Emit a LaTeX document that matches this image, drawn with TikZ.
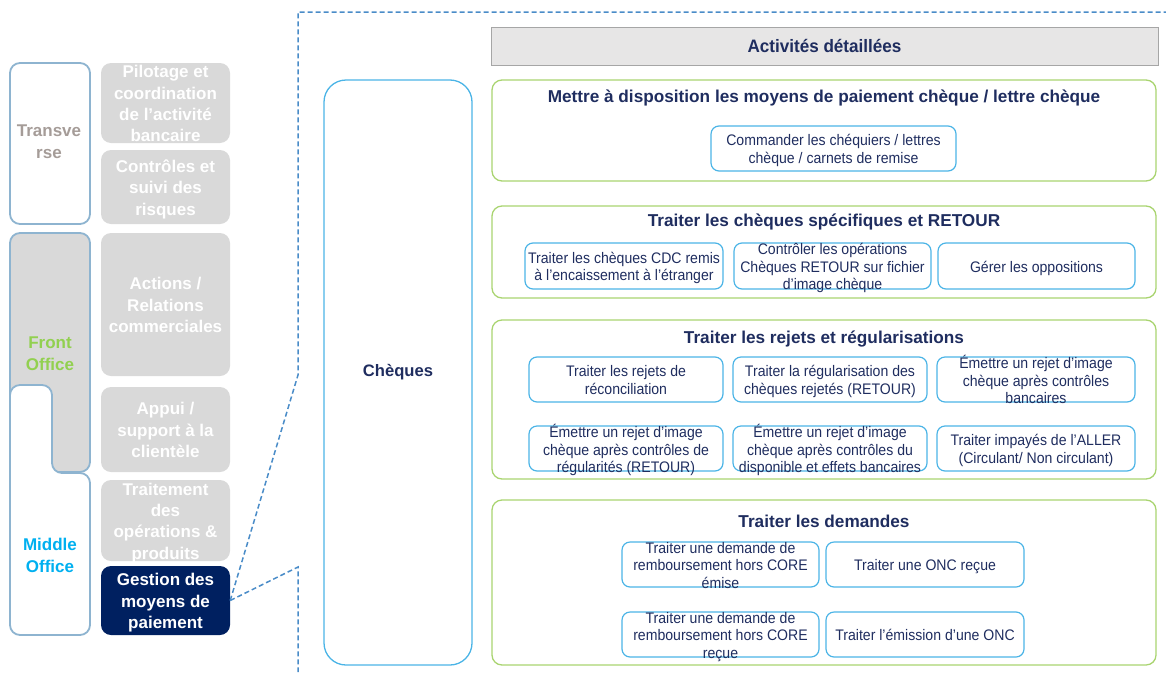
\documentclass[tikz,border=0pt]{standalone}
\usepackage{fontspec}
\setmainfont{Liberation Sans}
\newfontfamily\narrowfont{Liberation Sans}[FakeStretch=0.92]
\newfontfamily\hdrfont{Liberation Sans}[FakeStretch=0.95]
\definecolor{lgray}{HTML}{D9D9D9}
\definecolor{hgray}{HTML}{E7E6E6}
\definecolor{hborder}{HTML}{A6A6A6}
\definecolor{steel}{HTML}{8EB4D0}
\definecolor{navy}{HTML}{002060}
\definecolor{ntext}{HTML}{1F2D5F}
\definecolor{grn}{HTML}{A9D470}
\definecolor{fgreen}{HTML}{92D050}
\definecolor{mblue}{HTML}{00B0F0}
\definecolor{bbox}{HTML}{4BB4E6}
\definecolor{dashc}{HTML}{4A8CC8}
\definecolor{tgray}{HTML}{A59C98}
\newcommand\bt[1]{\smash{\raisebox{-0.4em}{\begin{tabular}{@{}c@{}}#1\end{tabular}}}}
\begin{document}
\begin{tikzpicture}[x=1pt,y=-1pt,
  graybox/.style={fill=lgray, rounded corners=10pt, inner sep=0pt, text=white,
    font=\bfseries\fontsize{17}{21.3}\selectfont},
  navybox/.style={graybox, fill=navy},
  sideframe/.style={draw=steel, line width=1.8pt, rounded corners=10pt, inner sep=0pt},
  sidetext/.style={font=\bfseries\fontsize{17}{22}\selectfont, inner sep=0pt},
  header/.style={fill=hgray, draw=hborder, line width=0.8pt, inner sep=0pt,
    text=ntext, font=\hdrfont\bfseries\fontsize{18}{20}\selectfont},
  bigbox/.style={draw=bbox, line width=1.3pt, rounded corners=22pt, inner sep=0pt,
    text=ntext, font=\bfseries\fontsize{16.6}{19}\selectfont},
  group/.style={draw=grn, line width=1.3pt, rounded corners=10pt, inner sep=0pt},
  gtitle/.style={text=ntext, inner sep=0pt, font=\bfseries\fontsize{17.2}{20}\selectfont},
  act/.style={draw=bbox, line width=1.2pt, rounded corners=8pt, inner sep=0pt,
    text=ntext, font=\narrowfont\fontsize{15.3}{17.5}\selectfont},
  frame/.style={draw=dashc, line width=1.5pt, dash pattern=on 5pt off 3pt}]
\useasboundingbox (0,0) rectangle (1166,672);
% left column
\node[sideframe, minimum width=80pt, minimum height=161pt] (trans) at (50,143.5) {};
\node[sidetext, text=tgray] (transT) at (49,140.5) {\bt{Transve\\rse}};
\node[sideframe, fill=lgray, minimum width=80pt, minimum height=239pt] (front) at (50,352.5) {};
\path[draw=steel, fill=white, line width=1.8pt, rounded corners=10pt]
  (10,385) -- (52,385) -- (52,473) -- (90,473) -- (90,635) -- (10,635) -- cycle;
\node[sidetext, text=fgreen] (frontT) at (50,353) {\bt{Front\\Office}};
\node[sidetext, text=mblue] (midT) at (50,555) {\bt{Middle\\Office}};
\node[graybox, minimum width=129pt, minimum height=80pt] (pil) at (165.5,103) {\bt{Pilotage et\\coordination\\de l’activité\\bancaire}};
\node[graybox, minimum width=129pt, minimum height=74pt] (ctl) at (165.5,187) {\bt{Contrôles et\\suivi des\\risques}};
\node[graybox, minimum width=129pt, minimum height=143pt] (acts) at (165.5,304.5) {\bt{Actions /\\Relations\\commerciales}};
\node[graybox, minimum width=129pt, minimum height=85pt] (app) at (165.5,429.5) {\bt{Appui /\\support à la\\clientèle}};
\node[graybox, minimum width=129pt, minimum height=81pt] (trt) at (165.5,520.5) {\bt{Traitement\\des\\opérations \&\\produits}};
\node[navybox, minimum width=129pt, minimum height=69pt] (gst) at (165.5,600.5) {\bt{Gestion des\\moyens de\\paiement}};
% dashed zoom frame
\coordinate (fa) at (298,375);
\coordinate (fb) at (298,12);
\coordinate (fc) at (1166,12);
\coordinate (fd) at (298,567);
\coordinate (fe) at (298,672);
\draw[frame] (gst.east) -- (fa) -- (fb) -- (fc);
\draw[frame] (gst.east) -- (fd) -- (fe);
% right part
\node[header, minimum width=667pt, minimum height=38pt] (hdr) at (824.5,46) {Activités détaillées};
\node[bigbox, minimum width=148pt, minimum height=585pt] (chq) at (398,372.5) {Chèques};
% group 1
\node[group, minimum width=664pt, minimum height=101pt] (g1) at (824,130.5) {};
\node[gtitle] (g1t) at (824,98) {Mettre à disposition les moyens de paiement chèque / lettre chèque};
\node[act, minimum width=245pt, minimum height=45pt] (a11) at (833.5,148.5) {\bt{Commander les chéquiers / lettres\\chèque / carnets de remise}};
% group 2
\node[group, minimum width=664pt, minimum height=92pt] (g2) at (824,252) {};
\node[gtitle] (g2t) at (824,222) {Traiter les chèques spécifiques et RETOUR};
\node[act, minimum width=198pt, minimum height=46pt] (a21) at (624,266) {\bt{Traiter les chèques CDC remis\\à l’encaissement à l’étranger}};
\node[act, minimum width=197pt, minimum height=46pt] (a22) at (832.5,266) {\bt{Contrôler les opérations\\Chèques RETOUR sur fichier\\d’image chèque}};
\node[act, minimum width=197pt, minimum height=46pt] (a23) at (1036.5,266) {\bt{Gérer les oppositions}};
% group 3
\node[group, minimum width=664pt, minimum height=159pt] (g3) at (824,399.5) {};
\node[gtitle] (g3t) at (824,339) {Traiter les rejets et régularisations};
\node[act, minimum width=194pt, minimum height=45pt] (a31) at (626,379.5) {\bt{Traiter les rejets de\\réconciliation}};
\node[act, minimum width=194pt, minimum height=45pt] (a32) at (830,379.5) {\bt{Traiter la régularisation des\\chèques rejetés (RETOUR)}};
\node[act, minimum width=198pt, minimum height=45pt] (a33) at (1036,379.5) {\bt{Émettre un rejet d’image\\chèque après contrôles\\bancaires}};
\node[act, minimum width=194pt, minimum height=45pt] (a34) at (626,448.5) {\bt{Émettre un rejet d’image\\chèque après contrôles de\\régularités (RETOUR)}};
\node[act, minimum width=194pt, minimum height=45pt] (a35) at (830,448.5) {\bt{Émettre un rejet d’image\\chèque après contrôles du\\disponible et effets bancaires}};
\node[act, minimum width=198pt, minimum height=45pt] (a36) at (1036,448.5) {\bt{Traiter impayés de l’ALLER\\(Circulant/ Non circulant)}};
% group 4
\node[group, minimum width=664pt, minimum height=165pt] (g4) at (824,582.5) {};
\node[gtitle] (g4t) at (824,521) {Traiter les demandes};
\node[act, minimum width=197pt, minimum height=45pt] (a41) at (720.5,564.5) {\bt{Traiter une demande de\\remboursement hors CORE\\émise}};
\node[act, minimum width=198pt, minimum height=45pt] (a42) at (925,564.5) {\bt{Traiter une ONC reçue}};
\node[act, minimum width=197pt, minimum height=45pt] (a43) at (720.5,634.5) {\bt{Traiter une demande de\\remboursement hors CORE\\reçue}};
\node[act, minimum width=198pt, minimum height=45pt] (a44) at (925,634.5) {\bt{Traiter l’émission d’une ONC}};
\end{tikzpicture}
\end{document}
